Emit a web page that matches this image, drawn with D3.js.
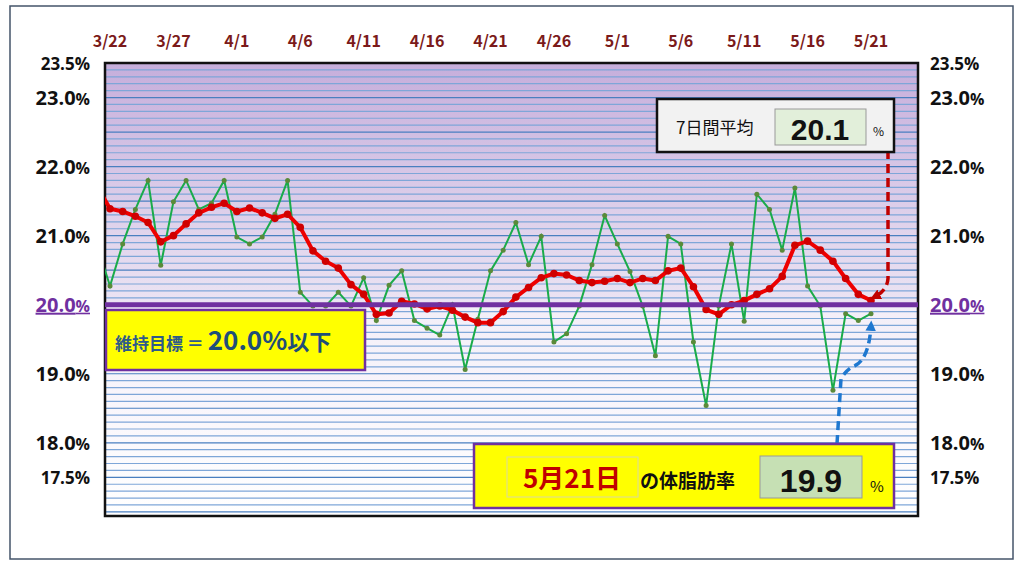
<!DOCTYPE html>
<html><head><meta charset="utf-8">
<script src="https://cdn.jsdelivr.net/npm/d3@7"></script>
<style>body{margin:0;background:#fff}svg{font-family:"Noto Sans CJK JP","Noto Sans",sans-serif}</style>
</head><body>
<svg id="chart" width="1024" height="568"></svg>
<script>
// day -1 (3/21) is drawn but clipped at the left edge
var dayLabels = ["3/22","3/27","4/1","4/6","4/11","4/16","4/21","4/26","5/1","5/6","5/11","5/16","5/21"];
var daily = [20.85,20.27,20.88,21.38,21.80,20.57,21.49,21.80,21.38,21.47,21.80,20.98,20.88,20.98,21.31,21.80,
  20.18,19.98,19.98,20.18,19.98,20.39,19.77,20.28,20.49,19.77,19.66,19.56,20.0,19.06,19.79,20.49,20.79,
  21.19,20.58,20.99,19.46,19.58,19.98,20.58,21.29,20.88,20.48,19.98,19.26,20.99,20.88,19.46,18.54,19.98,
  20.88,19.76,21.60,21.38,20.79,21.69,20.27,19.98,18.76,19.87,19.77,19.87];
var avg7 = [21.71,21.39,21.35,21.28,21.19,20.91,21.00,21.17,21.33,21.41,21.47,21.35,21.40,21.33,21.25,21.31,
  21.12,20.78,20.63,20.53,20.29,20.15,19.86,19.88,20.05,20.01,19.94,19.98,19.92,19.82,19.74,19.74,19.90,
  20.11,20.25,20.39,20.45,20.43,20.35,20.32,20.34,20.38,20.32,20.38,20.35,20.49,20.53,20.26,19.93,19.86,
  20.00,20.06,20.15,20.23,20.41,20.86,20.92,20.79,20.63,20.38,20.15,20.06];
var yLabels = [23.5,23.0,22.0,21.0,20.0,19.0,18.0,17.5];
var target = 20.0;

var svg = d3.select("#chart");
var pLeft = 105, pRight = 918, pTop = 63, pBottom = 516;
var x = d3.scaleLinear().domain([0, 60]).range([110, 871]);
var y = d3.scaleLinear().domain([23.5, 16.94]).range([pTop, pBottom]);

// outer frame
svg.append("rect").attr("x", 10).attr("y", 6).attr("width", 1003).attr("height", 553)
  .attr("fill", "none").attr("stroke", "#44546a").attr("stroke-width", 1.5);

var defs = svg.append("defs");
var g1 = defs.append("linearGradient").attr("id", "up").attr("x1", 0).attr("y1", 0).attr("x2", 0).attr("y2", 1);
g1.append("stop").attr("offset", "0").attr("stop-color", "#c6aedb");
g1.append("stop").attr("offset", "1").attr("stop-color", "#ece4f3");
var g2 = defs.append("linearGradient").attr("id", "down").attr("x1", 0).attr("y1", 0).attr("x2", 0).attr("y2", 1);
g2.append("stop").attr("offset", "0").attr("stop-color", "#f3eef8");
g2.append("stop").attr("offset", "1").attr("stop-color", "#ffffff");
defs.append("clipPath").attr("id", "clip").append("rect")
  .attr("x", pLeft).attr("y", pTop).attr("width", pRight - pLeft).attr("height", pBottom - pTop);

svg.append("rect").attr("x", pLeft).attr("y", pTop).attr("width", pRight - pLeft).attr("height", y(target) - pTop).attr("fill", "url(#up)");
svg.append("rect").attr("x", pLeft).attr("y", y(target)).attr("width", pRight - pLeft).attr("height", pBottom - y(target)).attr("fill", "url(#down)");

// grid every 0.1%
var grid = d3.range(170, 235).map(function(d) { return d / 10; });
svg.append("g").selectAll("line").data(grid).enter().append("line")
  .attr("x1", pLeft).attr("x2", pRight)
  .attr("y1", function(d) { return y(d); }).attr("y2", function(d) { return y(d); })
  .attr("stroke", function(d, i) { return i % 5 == 0 ? "#4a7fc0" : "#7ea6d8"; })
  .attr("stroke-width", 1.2);

svg.append("rect").attr("x", pLeft).attr("y", pTop).attr("width", pRight - pLeft).attr("height", pBottom - pTop)
  .attr("fill", "none").attr("stroke", "#111").attr("stroke-width", 2.5);

// date labels
svg.append("g").selectAll("text").data(dayLabels).enter().append("text")
  .attr("x", function(d, i) { return x(i * 5); }).attr("y", 47)
  .attr("text-anchor", "middle").attr("font-size", 16).attr("font-weight", "bold")
  .attr("fill", "#7b1a1a").text(function(d) { return d; });

// y labels both sides
function yText(xp, anchor) {
  var t = svg.append("g").selectAll("text").data(yLabels).enter().append("text")
    .attr("x", xp).attr("y", function(d) { return y(d) + 7; })
    .attr("text-anchor", anchor).attr("font-weight", "bold")
    .attr("font-family", "'Open Sans',sans-serif")
    .attr("fill", function(d) { return d == target ? "#7030a0" : "#111"; })
    .attr("text-decoration", function(d) { return d == target ? "underline" : null; })
    .attr("font-size", function(d) { return (d == 23.5 || d == 17.5) ? 17 : 20; });
  t.append("tspan").text(function(d) { return d.toFixed(1); });
  t.append("tspan").attr("font-size", function(d) { return (d == 23.5 || d == 17.5) ? 17 : 16; }).text("%");
}
yText(90, "end");
yText(930, "start");

var plot = svg.append("g").attr("clip-path", "url(#clip)");
var idx = function(d, i) { return x(i - 1); };

plot.append("path").datum(daily).attr("fill", "none").attr("stroke", "#1aab4a").attr("stroke-width", 2)
  .attr("d", d3.line().x(idx).y(function(d) { return y(d); }));
plot.selectAll(".gd").data(daily).enter().append("circle").attr("class", "gd")
  .attr("cx", idx).attr("cy", function(d) { return y(d); }).attr("r", 2.5).attr("fill", "#5a8a3a");

// target line
svg.append("line").attr("x1", pLeft).attr("x2", pRight).attr("y1", y(target)).attr("y2", y(target))
  .attr("stroke", "#7030a0").attr("stroke-width", 5);

plot.append("path").datum(avg7).attr("fill", "none").attr("stroke", "#ee0000").attr("stroke-width", 4)
  .attr("d", d3.line().x(idx).y(function(d) { return y(d); }));
plot.selectAll(".rd").data(avg7).enter().append("circle").attr("class", "rd")
  .attr("cx", idx).attr("cy", function(d) { return y(d); }).attr("r", 3.8).attr("fill", "#d00000");

// dashed arrows
var lastX = x(60), lastR = y(avg7[avg7.length - 1]), lastG = y(daily[daily.length - 1]);
defs.append("marker").attr("id", "ar").attr("viewBox", "0 0 10 10").attr("refX", 5).attr("refY", 5)
  .attr("markerWidth", 3).attr("markerHeight", 3).attr("orient", "auto-start-reverse")
  .append("path").attr("d", "M0,0L10,5L0,10z").attr("fill", "#c00000");
defs.append("marker").attr("id", "ab").attr("viewBox", "0 0 10 10").attr("refX", 5).attr("refY", 5)
  .attr("markerWidth", 3).attr("markerHeight", 3).attr("orient", "auto-start-reverse")
  .append("path").attr("d", "M0,0L10,5L0,10z").attr("fill", "#1f78d0");
svg.append("path").attr("d", "M" + (lastX + 17) + ",150 L" + (lastX + 17) + "," + (lastR - 22) +
    " Q" + (lastX + 16) + "," + (lastR - 10) + " " + (lastX + 4) + "," + (lastR - 4))
  .attr("fill", "none").attr("stroke", "#c00000").attr("stroke-width", 3.5).attr("stroke-dasharray", "9,5")
  .attr("marker-end", "url(#ar)");
svg.append("path").attr("d", "M" + (lastX - 34) + ",444 L" + (lastX - 30) + "," + (lastG + 65) +
    " Q" + (lastX - 24) + "," + (lastG + 55) + " " + (lastX - 16) + "," + (lastG + 52) +
    " Q" + (lastX - 2) + "," + (lastG + 45) + " " + (lastX) + "," + (lastG + 12))
  .attr("fill", "none").attr("stroke", "#1f78d0").attr("stroke-width", 3.5).attr("stroke-dasharray", "9,5")
  .attr("marker-end", "url(#ab)");

// 7-day average box
svg.append("rect").attr("x", 657).attr("y", 99).attr("width", 237).attr("height", 53)
  .attr("fill", "#f2f2f2").attr("stroke", "#111").attr("stroke-width", 2.5);
svg.append("text").attr("x", 676).attr("y", 134).attr("font-size", 17).attr("fill", "#111").text("7日間平均");
svg.append("rect").attr("x", 775).attr("y", 109).attr("width", 91).attr("height", 36)
  .attr("fill", "#e2efda").attr("stroke", "#999");
svg.append("text").attr("x", 820).attr("y", 140).attr("text-anchor", "middle").attr("font-size", 30)
  .attr("font-family", "'Liberation Sans Narrow','Liberation Sans',sans-serif").attr("font-weight", "bold")
  .attr("fill", "#111").text(avg7[avg7.length - 1].toFixed(1));
svg.append("text").attr("x", 873).attr("y", 136).attr("font-size", 12).attr("fill", "#111").text("%");

// target box
svg.append("rect").attr("x", 106).attr("y", 310).attr("width", 259).attr("height", 60)
  .attr("fill", "#ffff00").attr("stroke", "#7030a0").attr("stroke-width", 2.5);
var tt = svg.append("text").attr("x", 115).attr("y", 350).attr("fill", "#2e5a8a").attr("font-weight", "bold");
tt.append("tspan").attr("font-size", 17).text("維持目標 ＝ ");
tt.append("tspan").attr("font-size", 26).attr("fill", "#1f4e79").text("20.0%");
tt.append("tspan").attr("font-size", 22).attr("fill", "#1f4e79").text("以下");

// today box
svg.append("rect").attr("x", 474).attr("y", 444).attr("width", 420).attr("height", 64)
  .attr("fill", "#ffff00").attr("stroke", "#7030a0").attr("stroke-width", 2.5);
svg.append("rect").attr("x", 507).attr("y", 457).attr("width", 131).attr("height", 40)
  .attr("fill", "#ffff00").attr("stroke", "#d9d9a0");
svg.append("text").attr("x", 572).attr("y", 488).attr("text-anchor", "middle").attr("font-size", 26)
  .attr("font-weight", "bold").attr("fill", "#c00000").text("5月21日");
svg.append("text").attr("x", 640).attr("y", 488).attr("font-size", 19).attr("font-weight", "bold")
  .attr("fill", "#111").text("の体脂肪率");
svg.append("rect").attr("x", 760).attr("y", 456).attr("width", 102).attr("height", 42)
  .attr("fill", "#c6e0b4").attr("stroke", "#999");
svg.append("text").attr("x", 811).attr("y", 492).attr("text-anchor", "middle").attr("font-size", 32)
  .attr("font-family", "'Liberation Sans Narrow','Liberation Sans',sans-serif").attr("font-weight", "bold")
  .attr("fill", "#111").text(daily[daily.length - 1].toFixed(1));
svg.append("text").attr("x", 870).attr("y", 492).attr("font-size", 15).attr("fill", "#111").text("%");
</script>
</body></html>
